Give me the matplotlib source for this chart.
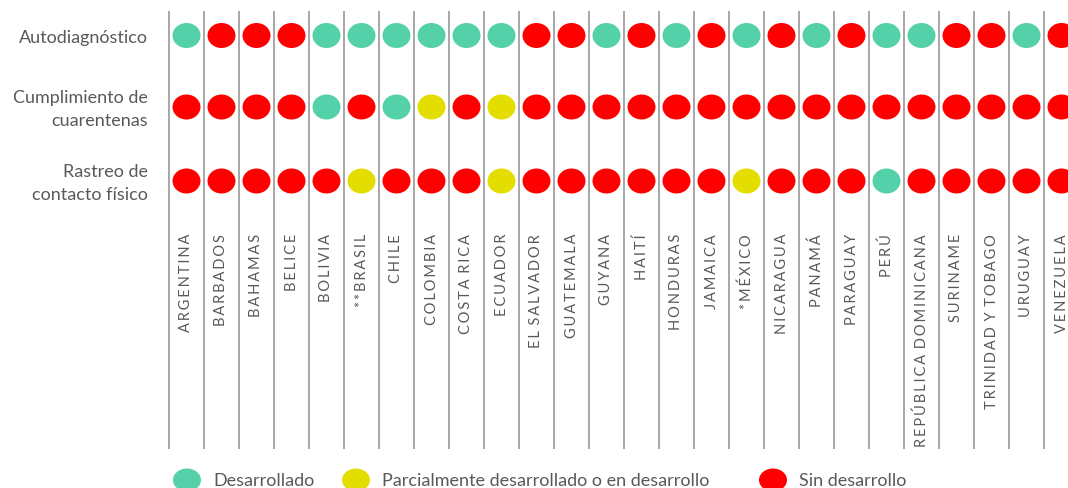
import numpy as np
import matplotlib
matplotlib.use("Agg")
from matplotlib import pyplot as plt
from matplotlib.patches import Ellipse

plt.rcParams['font.family'] = ['Lato', 'DejaVu Sans']

countries = ["ARGENTINA", "BARBADOS", "BAHAMAS", "BELICE", "BOLIVIA", "**BRASIL",
             "CHILE", "COLOMBIA", "COSTA RICA", "ECUADOR", "EL SALVADOR",
             "GUATEMALA", "GUYANA", "HAITÍ", "HONDURAS", "JAMAICA", "*MÉXICO",
             "NICARAGUA", "PANAMÁ", "PARAGUAY", "PERÚ", "REPÚBLICA DOMINICANA",
             "SURINAME", "TRINIDAD Y TOBAGO", "URUGUAY", "VENEZUELA"]

rows = ["Autodiagnóstico", "Cumplimiento de\ncuarentenas", "Rastreo de\ncontacto físico"]

# D = desarrollado, P = parcialmente, S = sin desarrollo
autodiagnostico = ["D", "S", "S", "S", "D", "D", "D", "D", "D", "D", "S", "S", "D",
                   "S", "D", "S", "D", "S", "D", "S", "D", "D", "S", "S", "D", "S"]
cuarentenas = ["S", "S", "S", "S", "D", "S", "D", "P", "S", "P", "S", "S", "S",
               "S", "S", "S", "S", "S", "S", "S", "S", "S", "S", "S", "S", "S"]
rastreo = ["S", "S", "S", "S", "S", "P", "S", "S", "S", "P", "S", "S", "S",
           "S", "S", "S", "P", "S", "S", "S", "D", "S", "S", "S", "S", "S"]

status = ["D", "P", "S"]
status_labels = ["Desarrollado", "Parcialmente desarrollado o en desarrollo", "Sin desarrollo"]
colors = {"D": "#55d1aa", "P": "#e3dd00", "S": "#ff0000"}

W, H = 1068, 489
fig = plt.figure(figsize=(W / 100, H / 100), dpi=100)
ax = fig.add_axes([0, 0, 1, 1])

# x in column units (35 px per column), y in pixels from top
col_w = 35.0
x0 = 186.5
ax.set_xlim(-x0 / col_w, (W - x0) / col_w)
ax.set_ylim(H, 0)
ax.axis('off')

row_y = [36.5, 108, 182]
text_col = "#595959"

# column separators
ax.vlines(np.arange(len(countries) + 1) - 0.5, 12, 450, color="#a0a0a0", lw=1.3)

for r, vals in enumerate([autodiagnostico, cuarentenas, rastreo]):
    for i, v in enumerate(vals):
        ax.add_patch(Ellipse((i, row_y[r]), 0.8, 25, color=colors[v], lw=0))
    ax.text((148 - x0) / col_w, row_y[r] + 1.5, rows[r], ha='right', va='center',
            fontsize=13, color=text_col, linespacing=1.5)

# letter-spaced country names
for i, c in enumerate(countries):
    spaced = "\u2009".join(c.replace(" ", "\u2009"))
    ax.text(i, 234, spaced, rotation=90, ha='center', va='top', fontsize=10.5,
            color=text_col)

# legend
leg_x = [187, 356, 773]
for k, s in enumerate(status):
    ax.add_patch(Ellipse(((leg_x[k] - x0) / col_w, 481), 0.8, 23, color=colors[s], lw=0))
    ax.text((leg_x[k] + 26 - x0) / col_w, 481, status_labels[k], ha='left', va='center',
            fontsize=13, color=text_col)

fig.savefig("out.png", dpi=100)
